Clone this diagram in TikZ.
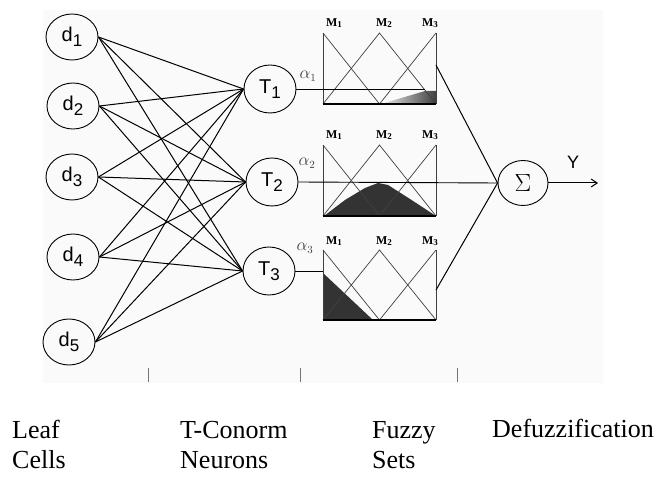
\documentclass[tikz,border=0pt]{standalone}
\usepackage{fontspec}
\setmainfont{Liberation Serif}
\newfontfamily\nodefont{Liberation Sans}
\usetikzlibrary{shapes.geometric,arrows.meta}
\newcommand{\sublab}[2]{#1\raisebox{-5pt}{\fontsize{17}{17}\selectfont #2}}
\newcommand{\mlab}[1]{\textbf{M}\raisebox{-1.5pt}{\fontsize{9}{9}\selectfont\textbf{#1}}}
\begin{document}
\begin{tikzpicture}[x=1pt,y=-1pt,
  cell/.style={draw, ellipse, line width=0.9pt, minimum width=52pt, minimum height=46pt, inner sep=0pt, font=\nodefont\fontsize{20}{20}\selectfont},
  tneuron/.style={cell, minimum height=48pt},
  conn/.style={line width=1pt},
  mf/.style={line width=0.7pt, draw=black!75},
  mtext/.style={font=\fontsize{12}{12}\selectfont, inner sep=0pt},
  alab/.style={font=\fontsize{16}{16}\selectfont, text=black!75, inner sep=0pt},
  tick/.style={draw=black!55, line width=0.8pt},
  caption/.style={anchor=base west, align=left, inner sep=0pt, font=\fontsize{26}{30}\selectfont}]
\useasboundingbox (0,0) rectangle (657,481);
\fill[black!2] (43,10) rectangle (603,383);

% leaf cells
\node[cell] (d1) at (72,37) {\sublab{d}{1}};
\node[cell] (d2) at (73,106) {\sublab{d}{2}};
\node[cell] (d3) at (72,177) {\sublab{d}{3}};
\node[cell] (d4) at (73,257) {\sublab{d}{4}};
\node[cell] (d5) at (69,342) {\sublab{d}{5}};
% T-conorm neurons
\node[tneuron] (T1) at (270,89) {\sublab{T}{1}};
\node[tneuron] (T2) at (272,182) {\sublab{T}{2}};
\node[tneuron] (T3) at (269,271) {\sublab{T}{3}};
% sum
\node[cell, minimum width=50pt, minimum height=45pt, font=\nodefont\fontsize{24}{24}\selectfont] (S) at (523,183) {$\Sigma$};

\foreach \i in {1,...,5}{
  \foreach \j in {1,2,3}{
    \draw[conn] (d\i.east) -- (T\j.west);
  }
}

% shaded areas
\shade[left color=black!8, right color=black!75] (381,104) -- (425,91) -- (436,91) -- (436,104) -- cycle;
\fill[black!80] (324,216) -- (345,200) -- (365,188) -- (378,183) -- (388,185) -- (410,199) -- (436,216) -- cycle;
\fill[black!80] (323,273) -- (373,320) -- (323,320) -- cycle;

% fuzzy set boxes
\foreach \top/\bot in {33/104, 145/216, 250/320}{
  \draw[mf] (323,\top) -- (323,\bot);
  \draw[mf] (436,\top) -- (436,\bot);
  \draw[mf] (323,\top) -- (379.5,\bot);
  \draw[mf] (323,\bot) -- (379.5,\top) -- (436,\bot);
  \draw[mf] (379.5,\bot) -- (436,\top);
  \draw[line width=1.8pt] (323,\bot) -- (436,\bot);
}
\foreach \y [count=\k] in {23,135,241}{
  \node[mtext] (m1\k) at (334,\y) {\mlab{1}};
  \node[mtext] (m2\k) at (384,\y) {\mlab{2}};
  \node[mtext] (m3\k) at (430,\y) {\mlab{3}};
}

\coordinate (a1) at (425,89);
\coordinate (b1) at (436,65);
\coordinate (a3) at (323,271);
\coordinate (b3) at (436,290);
\coordinate (yend) at (598,183);

\draw[line width=0.8pt] (T1.east) -- (a1);
\draw[line width=0.9pt] (T2.east) -- (S.west);
\draw[line width=0.8pt] (T3.east) -- (a3);
\draw[conn] (b1) -- (S.west);
\draw[conn] (b3) -- (S.west);
\draw[conn, -{Straight Barb[length=6pt,width=8pt]}] (S.east) -- (yend);

\node[alab] (al1) at (308,76) {$\alpha_1$};
\node[alab] (al2) at (307,163) {$\alpha_2$};
\node[alab] (al3) at (305,248) {$\alpha_3$};
\node[font=\nodefont\fontsize{18}{18}\selectfont, inner sep=0pt] (Y) at (573,162) {Y};

% ticks
\draw[tick] (148,368) -- (148,382);
\draw[tick] (300,368) -- (300,382);
\draw[tick] (457,368) -- (457,382);

% captions (anchored at the baseline of their last line)
\node[caption] (c1) at (12,468) {Leaf\\Cells};
\node[caption] (c2) at (180,468) {T-Conorm\\Neurons};
\node[caption] (c3) at (372,468) {Fuzzy\\Sets};
\node[caption] (c4) at (492,438) {Defuzzification};
\end{tikzpicture}
\end{document}
